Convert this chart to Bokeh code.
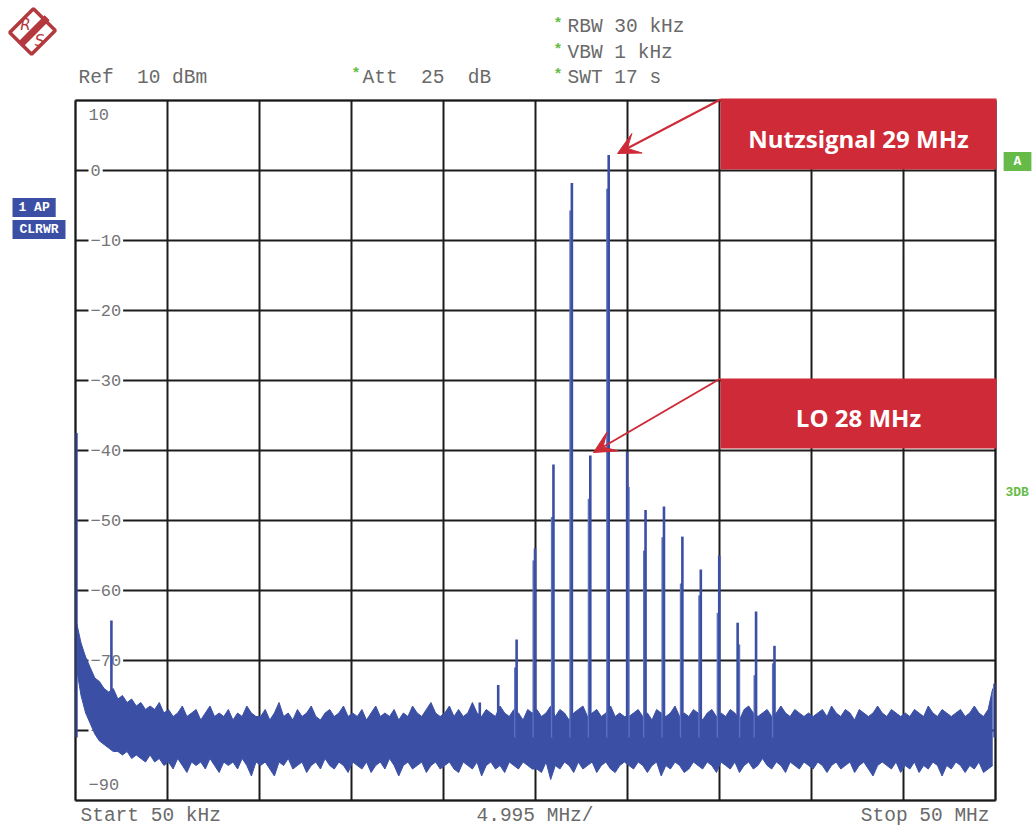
import numpy as np
from bokeh.plotting import figure
from bokeh.models import Range1d, Label, BoxAnnotation, Arrow, VeeHead, Grid, FixedTicker
from bokeh.embed import file_html
from bokeh.resources import INLINE
from bokeh.core.properties import value

# ---------------- data ----------------
start_mhz = 0.05
stop_mhz = 50.0
mhz_per_div = 4.995
top_dbm = 10.0
bottom_dbm = -90.0
db_per_div = 10.0

y_tick_values = [0, -10, -20, -30, -40, -50, -60, -70, -80]
y_tick_labels = ["0", "\u221210", "\u221220", "\u221230", "\u221240", "\u221250", "\u221260", "\u221270", "\u221280"]
y_top_label = "10"
y_bottom_label = "\u221290"

# discrete spectral lines (MHz, dBm)
peak_mhz = [0.1, 2.0, 22.0, 23.0, 24.0, 25.0, 26.0, 27.0, 28.0, 29.0, 30.0,
            31.0, 32.0, 33.0, 34.0, 35.0, 36.0, 37.0, 38.0, 49.95]
peak_dbm = [-37.5, -64.3, -76.0, -73.5, -67.0, -54.0, -42.0, -1.8, -40.7, 2.2, -40.2,
            -48.5, -48.0, -52.3, -57.0, -55.0, -64.6, -63.0, -67.9, -73.3]
# secondary (lower) lines sitting right next to the main ones
shoulder_mhz = [23.92, 24.92, 25.92, 26.92, 27.92, 28.92, 30.08, 30.92, 31.92,
                32.92, 33.92, 34.92, 36.08, 36.92, 37.92]
shoulder_dbm = [-71.0, -55.7, -49.5, -5.7, -46.9, -2.6, -45.2, -54.3, -52.4,
                -59.0, -60.7, -63.2, -67.7, -72.1, -70.4]
line_floor_dbm = -81.0

# noise band, every 0.25 MHz from 0.1 MHz
noise_upper = [
    -64.5, -67.5, -69.5, -71.0, -72.5, -73.0, -74.0, -74.5, -74.0, -75.5, -75.0, -76.0, -75.5, -76.5, -76.0, -77.0, -76.5, -77.0, -76.0, -77.5,
    -77.0, -78.0, -77.5, -76.5, -78.0, -77.5, -77.0, -78.5, -77.5, -76.5, -78.0, -77.5, -78.0, -77.0, -78.5, -77.5, -78.0, -76.5, -77.5, -78.0,
    -78.0, -77.0, -78.5, -77.5, -76.0, -78.0, -77.5, -78.5, -77.0, -78.0, -77.5, -76.5, -78.0, -78.5, -77.5, -77.0, -78.0, -77.5, -76.5, -78.0,
    -77.5, -78.0, -77.0, -78.5, -77.5, -76.5, -78.0, -77.5, -78.0, -77.0, -78.5, -77.5, -78.0, -76.5, -77.5, -78.0, -77.0, -76.0, -77.5, -78.0,
    -77.5, -76.5, -78.0, -77.0, -78.0, -77.5, -76.0, -77.5, -78.0, -77.0, -77.5, -78.0, -76.5, -77.5, -78.0, -77.0, -77.5, -78.5, -77.0, -77.5,
    -77.0, -78.0, -77.5, -76.5, -78.0, -77.0, -77.5, -78.5, -77.5, -77.0, -76.5, -78.0, -77.5, -77.0, -78.0, -77.5, -76.5, -78.0, -77.5, -78.0,
    -78.0, -77.5, -77.0, -78.0, -77.5, -78.5, -77.0, -77.5, -78.0, -77.5, -76.5, -78.0, -77.5, -78.0, -77.0, -77.5, -78.5, -77.5, -77.0, -78.0,
    -77.5, -78.0, -77.0, -77.5, -78.5, -77.0, -76.5, -77.5, -78.0, -77.5, -77.0, -78.0, -77.5, -76.5, -77.5, -78.0, -77.0, -77.5, -78.0, -77.5,
    -78.0, -77.5, -77.0, -78.0, -76.5, -77.5, -78.0, -77.0, -77.5, -78.5, -77.0, -77.5, -78.0, -77.5, -76.5, -77.5, -78.0, -77.0, -77.5, -78.0,
    -77.5, -78.0, -77.0, -77.5, -78.0, -76.5, -77.5, -78.0, -77.0, -77.5, -78.0, -77.5, -77.0, -78.0, -77.5, -76.5, -77.5, -78.0, -77.0, -74.0,
]
noise_lower = [
    -71.0, -75.0, -77.5, -79.0, -80.5, -81.5, -82.0, -82.5, -83.0, -83.0, -83.5, -83.0, -84.0, -83.5, -84.0, -84.5, -83.5, -84.5, -84.0, -85.0,
    -84.5, -85.5, -84.0, -85.0, -86.0, -84.5, -85.0, -84.5, -85.5, -84.0, -85.0, -86.0, -84.5, -85.0, -84.5, -85.5, -84.0, -85.0, -86.5, -84.5,
    -85.0, -84.5, -85.5, -86.5, -84.5, -85.0, -84.0, -85.5, -85.0, -84.5, -86.0, -85.0, -84.5, -85.5, -84.0, -85.0, -85.5, -84.5, -85.0, -86.0,
    -84.5, -85.0, -85.5, -84.5, -86.0, -85.0, -84.5, -85.5, -84.0, -85.0, -86.5, -85.0, -84.5, -85.5, -85.0, -84.5, -86.0, -85.0, -84.5, -85.5,
    -85.0, -84.5, -85.5, -86.0, -84.5, -85.0, -85.5, -84.5, -86.5, -85.0, -84.5, -85.5, -85.0, -86.0, -84.5, -85.0, -85.5, -84.5, -85.0, -85.5,
    -85.5, -86.0, -84.5, -87.0, -85.0, -85.5, -84.5, -85.0, -86.0, -84.5, -85.5, -85.0, -84.5, -86.0, -85.0, -84.5, -85.5, -86.0, -85.0, -84.5,
    -85.0, -85.5, -84.5, -85.0, -86.0, -85.0, -84.5, -86.5, -85.0, -85.5, -84.5, -85.0, -86.0, -85.5, -84.5, -85.0, -85.5, -84.5, -85.0, -86.0,
    -84.5, -85.0, -85.5, -84.5, -86.0, -85.0, -84.5, -85.5, -85.0, -84.0, -85.0, -85.5, -84.5, -85.0, -86.0, -84.5, -85.0, -85.5, -84.5, -85.0,
    -85.5, -84.5, -85.0, -86.0, -85.0, -84.5, -85.5, -85.0, -84.5, -86.0, -85.0, -84.5, -85.5, -86.5, -85.0, -84.5, -85.0, -85.5, -84.5, -86.0,
    -85.0, -85.5, -84.5, -86.0, -85.0, -85.5, -84.5, -85.0, -86.5, -85.0, -85.5, -84.5, -85.0, -86.0, -85.0, -85.5, -84.5, -86.0, -85.5, -85.0,
]
noise_mhz = [round(0.1 + 0.25 * i, 2) for i in range(len(noise_upper))]

# ---------------- layout ----------------
W, H = 1034, 828                    # canvas (Bokeh page has no body margin)
PX0, PY0, FW, FH = 75, 100, 920, 700  # measurement area on the canvas
NB = "\u00a0"                        # non-collapsing space

def dx(px):
    return start_mhz + (px - PX0) * (stop_mhz - start_mhz) / FW

def dy(py):
    return top_dbm - (py - PY0) * (top_dbm - bottom_dbm) / FH

TRACE = "#3b50a5"
GRAY = "#6a6a6a"
GREEN = "#66bb48"
RED = "#cf2a37"
LOGO = "#b3393f"

p = figure(width=W, height=H,
           x_range=Range1d(dx(0), dx(W)), y_range=Range1d(dy(H), dy(0)),
           output_backend="svg", toolbar_location=None,
           x_axis_location=None, y_axis_location=None, min_border=0)
p.outline_line_color = None
p.background_fill_color = "white"
p.border_fill_color = "white"
for g in list(p.xgrid) + list(p.ygrid):
    g.visible = False

x_grid = [start_mhz + k * mhz_per_div for k in range(11)]
y_grid = [bottom_dbm + k * db_per_div for k in range(11)]
p.add_layout(Grid(dimension=0, ticker=FixedTicker(ticks=x_grid), cross_bounds=(bottom_dbm, top_dbm),
                  grid_line_color="#1c1c1c", grid_line_width=2))
p.add_layout(Grid(dimension=1, ticker=FixedTicker(ticks=y_grid), cross_bounds=(start_mhz, stop_mhz),
                  grid_line_color="#1c1c1c", grid_line_width=2))

# y tick labels inside the area (drawn before the trace so the noise covers -80)
lab_x = dx(88)
p.text(x=[lab_x] * len(y_tick_values), y=y_tick_values, text=y_tick_labels,
       text_font=value("Liberation Mono"), text_font_size="17px", text_color="#757575",
       text_align="left", text_baseline="middle",
       background_fill_color="white", padding=2)
p.text(x=[lab_x], y=[top_dbm], text=[y_top_label], y_offset=14,
       text_font=value("Liberation Mono"), text_font_size="17px", text_color="#757575",
       text_align="left", text_baseline="middle")
p.text(x=[lab_x], y=[bottom_dbm], text=[y_bottom_label], y_offset=-16,
       text_font=value("Liberation Mono"), text_font_size="17px", text_color="#757575",
       text_align="left", text_baseline="middle")

# trace
p.varea(x=noise_mhz, y1=noise_lower, y2=noise_upper, fill_color=TRACE)
p.line(noise_mhz, noise_upper, line_color=TRACE, line_width=1)
p.line(noise_mhz, noise_lower, line_color=TRACE, line_width=1)
p.segment(x0=shoulder_mhz, y0=[line_floor_dbm] * len(shoulder_mhz), x1=shoulder_mhz, y1=shoulder_dbm,
          line_color="#5f72bf", line_width=2.2)
p.segment(x0=peak_mhz, y0=[line_floor_dbm] * len(peak_mhz), x1=peak_mhz, y1=peak_dbm,
          line_color=TRACE, line_width=2.6)

# measurement area border
p.add_layout(BoxAnnotation(left=start_mhz, right=stop_mhz, top=top_dbm, bottom=bottom_dbm,
                           fill_alpha=0, line_color="#111111", line_width=3))

# annotation boxes
p.add_layout(BoxAnnotation(left=dx(720), right=dx(996), top=dy(98), bottom=dy(169),
                           fill_color=RED, fill_alpha=1, line_alpha=0))
p.add_layout(BoxAnnotation(left=dx(720), right=dx(996), top=dy(378), bottom=dy(448),
                           fill_color=RED, fill_alpha=1, line_alpha=0))

def put(text, px, py, size, color, font="Liberation Mono", align="left",
        baseline="middle", style="normal", **kw):
    lab = Label(x=dx(px), y=dy(py), text=text, text_font=font, text_font_size=f"{size}px",
                text_color=color, text_align=align, text_baseline=baseline,
                text_font_style=style, **kw)
    p.add_layout(lab)
    return lab

put("Nutzsignal 29 MHz", 858, 138, 24, "white", font="Open Sans", align="center", style="bold")
put("LO 28 MHz", 858, 417, 24, "white", font="Open Sans", align="center", style="bold")

p.add_layout(Arrow(end=VeeHead(size=22, fill_color=RED, line_color=RED),
                   x_start=dx(720), y_start=dy(99), x_end=dx(617), y_end=dy(153),
                   line_color=RED, line_width=2))
p.add_layout(Arrow(end=VeeHead(size=22, fill_color=RED, line_color=RED),
                   x_start=dx(720), y_start=dy(378), x_end=dx(593), y_end=dy(452),
                   line_color=RED, line_width=2))

# header texts
HS = 19.5
put("Ref" + NB + NB + "10 dBm", 78, 77, HS, GRAY)
put("*", 351, 74, 15, GREEN, style="bold")
put("Att" + NB + NB + "25" + NB + NB + "dB", 362, 77, HS, GRAY)
put("*", 553, 24, 15, GREEN, style="bold")
put("RBW 30 kHz", 567, 26, HS, GRAY)
put("*", 553, 50, 15, GREEN, style="bold")
put("VBW 1 kHz", 567, 52, HS, GRAY)
put("*", 553, 75, 15, GREEN, style="bold")
put("SWT 17 s", 567, 77, HS, GRAY)

# footer texts
put("Start 50 kHz", 80, 815, HS, GRAY)
put("4.995 MHz/", 476, 815, HS, GRAY)
put("Stop 50 MHz", 989, 815, HS, GRAY, align="right")

# trace / status badges
put("1 AP", 12, 207, 13, "white", style="bold", background_fill_color=TRACE, padding=(6, 2))
put("CLRWR", 12, 229, 13, "white", style="bold", background_fill_color=TRACE, padding=(7, 2))
put("A", 1017, 161, 13, "white", align="center", style="bold", background_fill_color=GREEN, padding=(10, 2))
put("3DB", 1005, 492, 13, GREEN, style="bold")

# R&S logo
put(NB + NB, 32, 31, 28, LOGO, align="center", angle=45, angle_units="deg",
    background_fill_color="white", border_line_color=LOGO, border_line_width=3.5)
put(NB * 10, 34, 30, 6, LOGO, align="center", angle=45, angle_units="deg",
    background_fill_color=LOGO)
put("R", 25, 24, 15, LOGO, font="DejaVu Sans", align="center", style="italic")
put("S", 39, 40, 15, LOGO, font="DejaVu Sans", align="center", style="italic")

open("out.html", "w").write(file_html(p, INLINE))
